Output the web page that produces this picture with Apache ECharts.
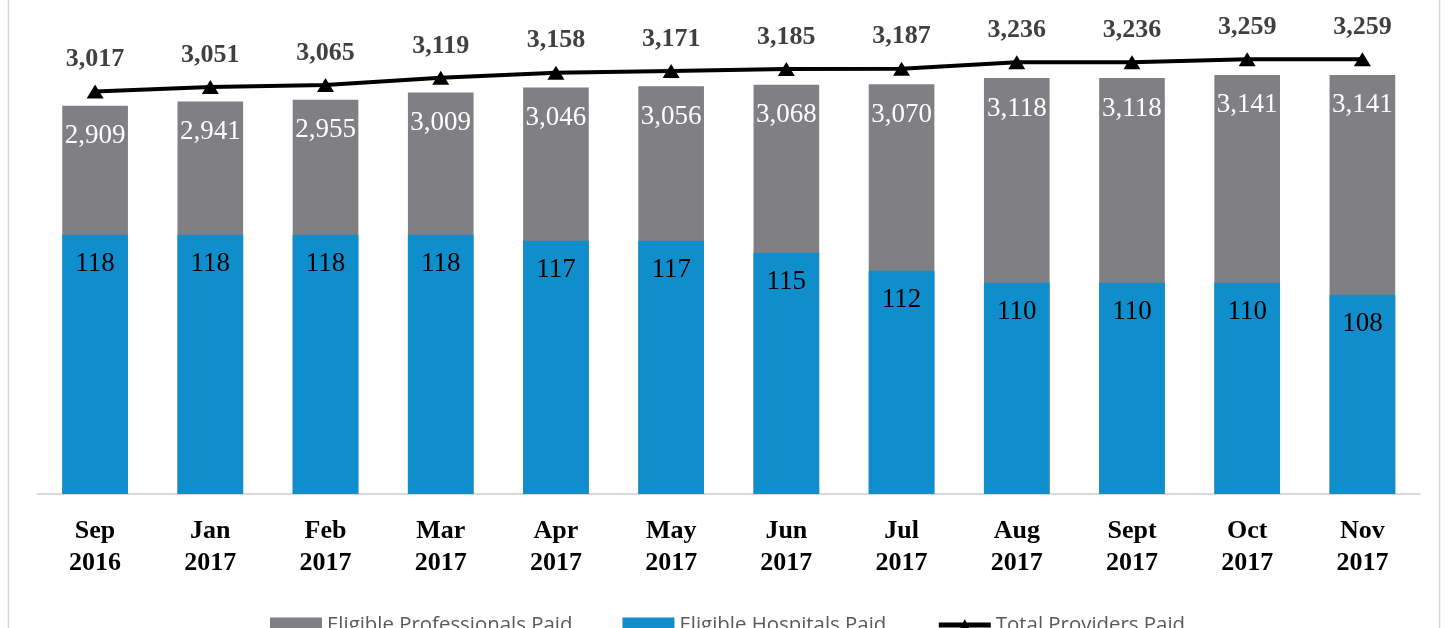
<!DOCTYPE html>
<html><head><meta charset="utf-8">
<script src="https://cdn.jsdelivr.net/npm/echarts@6/dist/echarts.min.js"></script>
<style>html,body{margin:0;padding:0;background:#fff}#c{width:1450px;height:628px}</style>
</head><body><div id="c"></div>
<script>
const categories = ['Sep\n2016','Jan\n2017','Feb\n2017','Mar\n2017','Apr\n2017','May\n2017','Jun\n2017','Jul\n2017','Aug\n2017','Sept\n2017','Oct\n2017','Nov\n2017'];
const professionals = [2909,2941,2955,3009,3046,3056,3068,3070,3118,3118,3141,3141];
const hospitals = [118,118,118,118,117,117,115,112,110,110,110,108];
const totals = [3017,3051,3065,3119,3158,3171,3185,3187,3236,3236,3259,3259];

const fmt = p => Number(p.value).toLocaleString('en-US');
const serif = '"Liberation Serif", "DejaVu Serif", serif';
const chart = echarts.init(document.getElementById('c'));
chart.setOption({
  animation: false,
  backgroundColor: '#fff',
  graphic: [
    {type:'line', shape:{x1:8.5,y1:0,x2:8.5,y2:628}, style:{stroke:'#d9d9d9',lineWidth:1.5}},
    {type:'line', shape:{x1:1439.5,y1:0,x2:1439.5,y2:628}, style:{stroke:'#d9d9d9',lineWidth:1.5}}
  ],
  grid: {left: 37.5, right: 30, top: 27, bottom: 134},
  legend: {
    left: 265, top: 610, itemGap: 50, itemWidth: 52, itemHeight: 15,
    textStyle: {fontFamily: '"Open Sans", sans-serif', fontSize: 20.4, color: '#595959'},
    data: [
      {name:'Eligible Professionals Paid', icon:'rect'},
      {name:'Eligible Hospitals Paid', icon:'rect'},
      {name:'Total Providers Paid', itemStyle:{color:'#000'}, lineStyle:{width:5}}
    ]
  },
  xAxis: {
    type: 'category', data: categories,
    axisLine: {lineStyle: {color: '#d9d9d9', width: 2}},
    axisTick: {show: false},
    axisLabel: {fontFamily: serif, fontWeight: 'bold', fontSize: 26, color: '#000', lineHeight: 32, margin: 21, interval: 0}
  },
  yAxis: [
    {type: 'value', min: 0, max: 3500, show: false, splitLine: {show: false}},
    {type: 'value', min: 74.8, max: 152.6, show: false, splitLine: {show: false}}
  ],
  series: [
    {
      name: 'Eligible Professionals Paid', type: 'bar', yAxisIndex: 0, data: professionals,
      barWidth: '57%', barGap: '-100%',
      itemStyle: {color: '#808084'},
      label: {show: true, position: 'insideTop', distance: 17, formatter: fmt,
        fontFamily: serif, fontSize: 27, color: '#fff'}
    },
    {
      name: 'Eligible Hospitals Paid', type: 'bar', yAxisIndex: 1, data: hospitals,
      barWidth: '57%', barGap: '-100%',
      itemStyle: {color: '#108ecb'},
      label: {show: true, position: 'insideTop', distance: 16, formatter: fmt,
        fontFamily: serif, fontSize: 27, color: '#000'}
    },
    {
      name: 'Total Providers Paid', type: 'line', yAxisIndex: 0, data: totals,
      symbol: 'triangle', symbolSize: [17, 14],
      lineStyle: {color: '#000', width: 4},
      itemStyle: {color: '#000'},
      label: {show: true, position: 'top', distance: 12, formatter: fmt,
        fontFamily: serif, fontWeight: 'bold', fontSize: 26, color: '#404040'}
    }
  ]
});
</script></body></html>
